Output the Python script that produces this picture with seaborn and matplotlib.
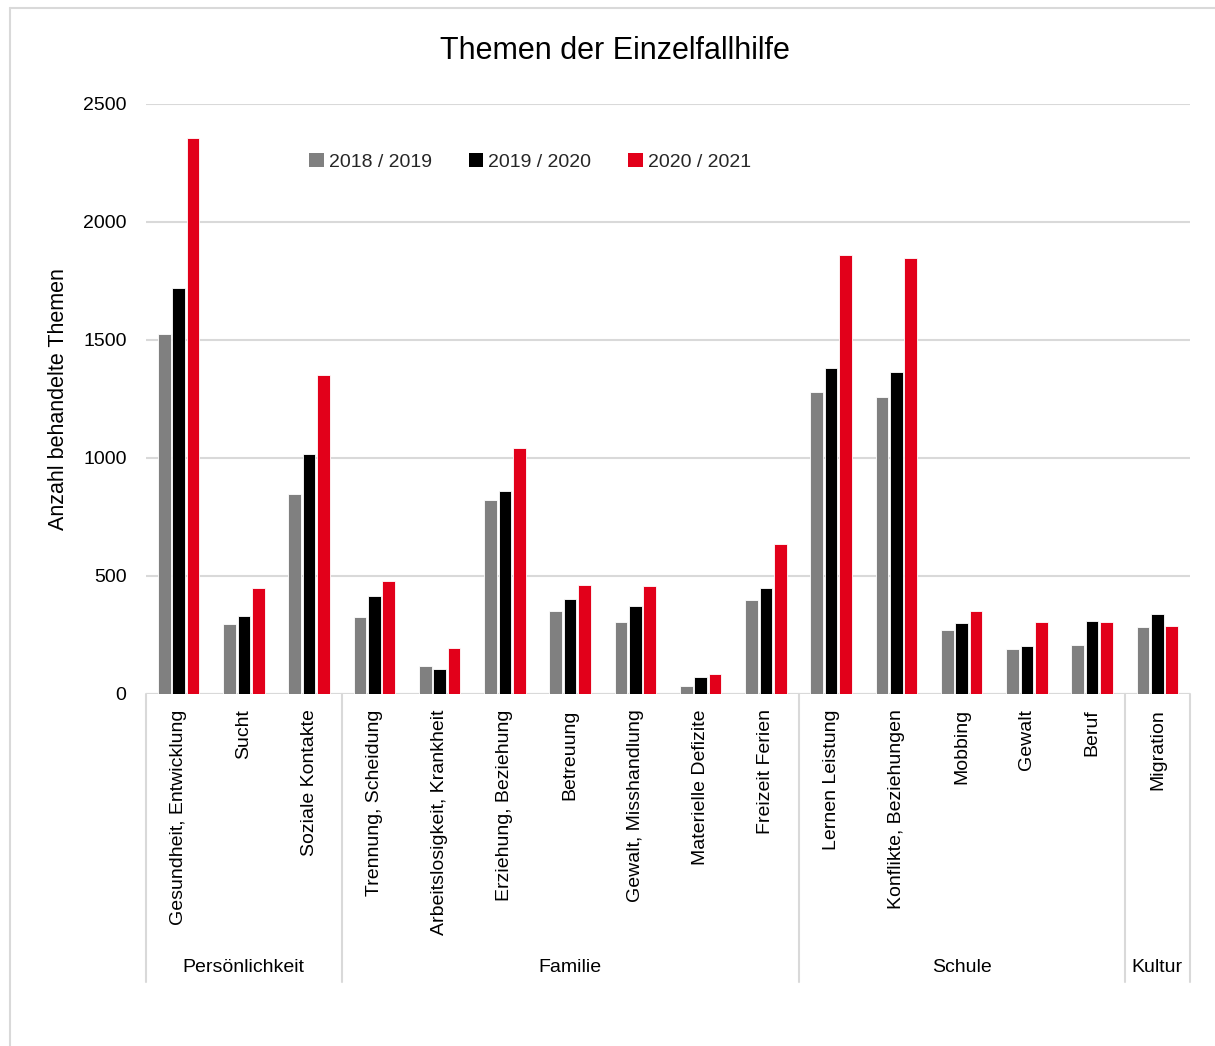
import matplotlib
matplotlib.use("Agg")
import matplotlib.pyplot as plt
import matplotlib.transforms as mtransforms
from matplotlib.lines import Line2D
from matplotlib.patches import Patch
import seaborn as sns
import pandas as pd

categories = ["Gesundheit, Entwicklung", "Sucht", "Soziale Kontakte",
              "Trennung, Scheidung", "Arbeitslosigkeit, Krankheit", "Erziehung, Beziehung",
              "Betreuung", "Gewalt, Misshandlung", "Materielle Defizite", "Freizeit Ferien",
              "Lernen Leistung", "Konflikte, Beziehungen", "Mobbing", "Gewalt", "Beruf",
              "Migration"]
groups = ["Persönlichkeit", "Familie", "Schule", "Kultur"]
group_sizes = [3, 7, 5, 1]
series = ["2018 / 2019", "2019 / 2020", "2020 / 2021"]
v_2018 = [1525, 295, 846, 327, 118, 822, 353, 306, 33, 397, 1281, 1260, 271, 189, 206, 284]
v_2019 = [1721, 332, 1017, 414, 106, 860, 401, 373, 73, 450, 1381, 1363, 301, 205, 310, 340]
v_2020 = [2354, 451, 1351, 478, 193, 1043, 463, 456, 84, 636, 1860, 1847, 353, 305, 305, 288]
colors = ["#808080", "#000000", "#e2001a"]

rows = []
for s, vals in zip(series, [v_2018, v_2019, v_2020]):
    for c, v in zip(categories, vals):
        rows.append({"Kategorie": c, "Jahr": s, "Anzahl": v})
df = pd.DataFrame(rows)

sns.set_theme(style="white")
plt.rcParams["font.family"] = ["Liberation Sans", "DejaVu Sans"]

fig = plt.figure(figsize=(12.15, 10.46), dpi=100)
ax = fig.add_axes([146 / 1215, 1 - 694 / 1046, (1190 - 146) / 1215, 590 / 1046])

sns.barplot(data=df, x="Kategorie", y="Anzahl", hue="Jahr", order=categories,
            hue_order=series, palette=colors, width=0.66, gap=0.12,
            edgecolor="white", linewidth=0.6, errorbar=None, ax=ax, saturation=1)

ax.set_ylim(0, 2500)
ax.set_xlim(-0.5, len(categories) - 0.5)
ax.set_yticks([0, 500, 1000, 1500, 2000, 2500])
ax.yaxis.grid(True, color="#d9d9d9", linewidth=1.5)
ax.set_axisbelow(True)
for sp in ["left", "right", "top", "bottom"]:
    ax.spines[sp].set_visible(False)
ax.axhline(0, color="#d9d9d9", linewidth=1.5, zorder=0.5)
ax.tick_params(axis="y", length=0, pad=14, labelsize=14, labelcolor="black")
ax.tick_params(axis="x", length=0, pad=11, labelsize=14, labelcolor="black")
ax.set_xticks(range(len(categories)))
ax.set_xticklabels(categories, rotation=90, va="top", ha="center")
ax.set_xlabel("")
ax.set_ylabel("Anzahl behandelte Themen", fontsize=15.5, color="black", labelpad=10)

# group separators and labels
trans = mtransforms.blended_transform_factory(ax.transData, ax.transAxes)
bounds = [-0.5]
for n in group_sizes:
    bounds.append(bounds[-1] + n)
for b in bounds:
    ax.add_line(Line2D([b, b], [0, -0.488], transform=trans, color="#d9d9d9",
                       linewidth=1.5, clip_on=False))
for g, lo, hi in zip(groups, bounds[:-1], bounds[1:]):
    ax.text((lo + hi) / 2, -0.463, g, transform=trans, ha="center", va="center",
            fontsize=14, color="black")

# legend
ax.get_legend().remove()
handles = [Patch(facecolor=c, edgecolor="none") for c in colors]
fig.legend(handles, series, loc="center", bbox_to_anchor=(530 / 1215, 1 - 162 / 1046),
           ncol=3, frameon=False, fontsize=14, handlelength=0.75, handleheight=0.75,
           handletextpad=0.25, columnspacing=1.9)

fig.suptitle("Themen der Einzelfallhilfe", x=615 / 1215, y=1 - 51 / 1046, va="center",
             fontsize=22, color="black")

# outer chart frame
fig.add_artist(Line2D([10 / 1215, 10 / 1215], [0, 1 - 8 / 1046], transform=fig.transFigure,
                      color="#d9d9d9", linewidth=1.5))
fig.add_artist(Line2D([10 / 1215, 1], [1 - 8 / 1046, 1 - 8 / 1046], transform=fig.transFigure,
                      color="#d9d9d9", linewidth=1.5))

fig.savefig("out.png", dpi=100, facecolor="white")
